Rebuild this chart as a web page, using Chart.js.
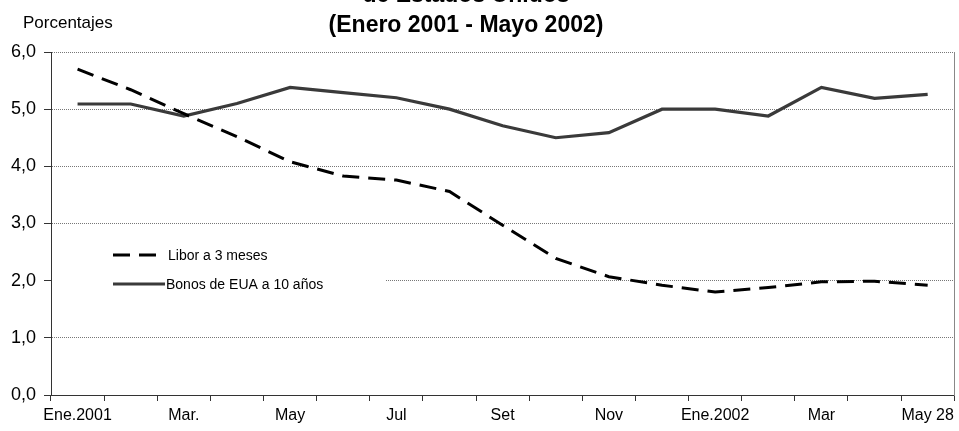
<!DOCTYPE html>
<html>
<head>
<meta charset="utf-8">
<script src="https://cdn.jsdelivr.net/npm/chart.js@4/dist/chart.umd.min.js"></script>
<style>
  body { margin: 0; background: #fff; }
  #wrap { width: 959px; height: 431px; position: relative; }
</style>
</head>
<body>
<div id="wrap"><canvas id="rateChart"></canvas></div>
<script>
// Monthly observations, Jan 2001 - May 28 2002
const months = ['Ene.2001', '', 'Mar.', '', 'May', '', 'Jul', '', 'Set', '', 'Nov', '', 'Ene.2002', '', 'Mar', '', 'May 28'];
const libor = [5.70, 5.34, 4.92, 4.52, 4.08, 3.83, 3.76, 3.56, 2.97, 2.39, 2.07, 1.92, 1.80, 1.88, 1.98, 1.99, 1.92];
const bonos = [5.09, 5.09, 4.88, 5.10, 5.38, 5.29, 5.20, 5.00, 4.71, 4.50, 4.59, 5.00, 5.00, 4.88, 5.38, 5.19, 5.26];
const seriesNames = ['Libor a 3 meses', 'Bonos de EUA a 10 años'];
const titleLines = ['de Estados Unidos', '(Enero 2001 - Mayo 2002)'];
const yUnit = 'Porcentajes';

Chart.defaults.font.family = "'Liberation Sans', Arial, sans-serif";
Chart.defaults.color = '#000';

// titles and the unit label above the axis
const titlePlugin = {
    id: 'titles',
    afterDraw(chart) {
        const ctx = chart.ctx;
        ctx.save();
        ctx.fillStyle = '#000';
        ctx.textAlign = 'center';
        ctx.textBaseline = 'alphabetic';
        ctx.font = "bold 23px 'Liberation Sans', Arial, sans-serif";
        ctx.fillText(titleLines[0], 466, 2);
        ctx.fillText(titleLines[1], 466, 32);
        ctx.textAlign = 'left';
        ctx.font = "17px 'Liberation Sans', Arial, sans-serif";
        ctx.fillText(yUnit, 23, 28);
        ctx.restore();
    }
};

// legend sits inside the plot on a white box
const boxLegend = {
    id: 'boxLegend',
    afterDatasetsDraw(chart) {
        const ctx = chart.ctx;
        ctx.save();
        ctx.fillStyle = '#fff';
        ctx.fillRect(52, 234, 334, 74);
        const rows = [255, 284];
        chart.data.datasets.forEach((ds, i) => {
            const y = rows[i];
            ctx.strokeStyle = ds.borderColor;
            ctx.lineWidth = ds.borderWidth;
            ctx.setLineDash(ds.borderDash || []);
            ctx.beginPath();
            ctx.moveTo(113, y);
            ctx.lineTo(i === 0 ? 159 : 165, y);
            ctx.stroke();
            ctx.setLineDash([]);
            ctx.fillStyle = '#000';
            ctx.font = "14px 'Liberation Sans', Arial, sans-serif";
            ctx.textBaseline = 'middle';
            ctx.fillText(ds.label, i === 0 ? 168 : 166, y + 1);
        });
        ctx.restore();
    }
};

const ctx = document.getElementById('rateChart').getContext('2d');
new Chart(ctx, {
    type: 'line',
    data: {
        labels: months,
        datasets: [{
            label: seriesNames[0],
            data: libor,
            borderColor: '#000',
            borderWidth: 3,
            borderDash: [17, 9],
            pointRadius: 0,
            tension: 0
        }, {
            label: seriesNames[1],
            data: bonos,
            borderColor: '#3a3a3a',
            borderWidth: 3.2,
            pointRadius: 0,
            tension: 0
        }]
    },
    options: {
        responsive: true,
        maintainAspectRatio: false,
        animation: false,
        layout: { padding: { top: 52, right: 3, left: 0, bottom: 0 } },
        scales: {
            x: {
                offset: true,
                grid: {
                    offset: true,
                    drawOnChartArea: false,
                    tickLength: 6,
                    tickColor: '#333'
                },
                border: { color: '#333', width: 1 },
                ticks: {
                    autoSkip: false,
                    maxRotation: 0,
                    padding: 5,
                    font: { size: 16 }
                },
                afterFit(scale) { scale.height = 36; }
            },
            y: {
                min: 0,
                max: 6,
                ticks: {
                    stepSize: 1,
                    padding: 8,
                    font: { size: 18 },
                    callback: v => v.toFixed(1).replace('.', ',')
                },
                grid: {
                    color: '#777',
                    tickLength: 7,
                    tickColor: '#333'
                },
                border: { color: '#333', width: 1, dash: [1, 1] },
                afterFit(scale) { scale.width = 51; }
            },
            y2: {
                position: 'right',
                min: 0,
                max: 6,
                ticks: { display: false },
                grid: { drawOnChartArea: false, drawTicks: false },
                border: { color: '#888', width: 1 },
                afterFit(scale) { scale.width = 0; }
            }
        },
        plugins: {
            legend: { display: false },
            tooltip: { enabled: false }
        }
    },
    plugins: [titlePlugin, boxLegend]
});
</script>
</body>
</html>
